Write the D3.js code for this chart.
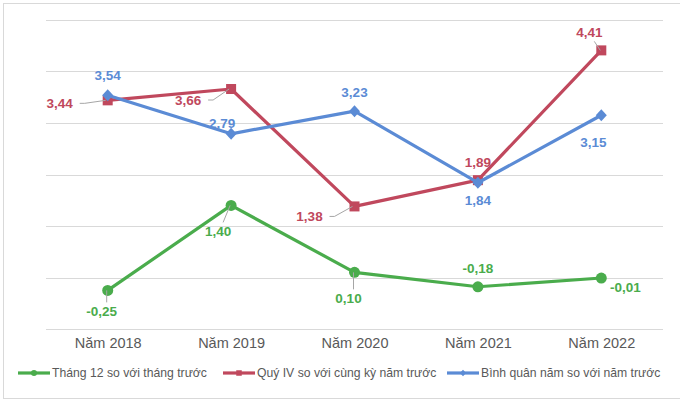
<!DOCTYPE html>
<html><head><meta charset="utf-8">
<script src="https://cdn.jsdelivr.net/npm/d3@7"></script>
<style>body{margin:0;background:#fff;} svg{display:block;font-family:Arial,"Liberation Sans",sans-serif;}</style>
</head><body><svg id="c" width="680" height="402"></svg>
<script>
const categories = ["Năm 2018","Năm 2019","Năm 2020","Năm 2021","Năm 2022"];
const seriesNames = ["Tháng 12 so với tháng trước","Quý IV so với cùng kỳ năm trước","Bình quân năm so với năm trước"];
const greenValues = [-0.25, 1.40, 0.10, -0.18, -0.01];
const redValues = [3.44, 3.66, 1.38, 1.89, 4.41];
const blueValues = [3.54, 2.79, 3.23, 1.84, 3.15];
const yTicks = [-1,0,1,2,3,4,5];

const svg = d3.select("#c");
svg.append("rect").attr("x",3.5).attr("y",3.5).attr("width",680).attr("height",395).attr("fill","none").attr("stroke","#d9d9d9");

const x = d3.scalePoint().domain(categories).range([46,663]).padding(0.5);
const y = d3.scaleLinear().domain([-1,5]).range([329,20]);

// gridlines
svg.append("g").selectAll("line").data(yTicks).join("line")
  .attr("x1",46).attr("x2",663).attr("y1",d=>Math.round(y(d))+0.5).attr("y2",d=>Math.round(y(d))+0.5)
  .attr("stroke","#d9d9d9").attr("stroke-width",1);

// x axis labels
const xAxis = d3.axisBottom(x).tickSize(0).tickPadding(0);
const gx = svg.append("g").attr("transform","translate(0,338)").call(xAxis);
gx.select(".domain").remove();
gx.selectAll("text").attr("font-size",14.5).attr("fill","#595959").attr("font-family","Arial,'Liberation Sans',sans-serif").attr("dy","0.71em");

const colors = {g:"#4aac4c", r:"#c0485d", b:"#5b8bd5"};
const series = [
  {key:"g", values:greenValues, marker:"circle"},
  {key:"r", values:redValues, marker:"square"},
  {key:"b", values:blueValues, marker:"diamond"}
];
const line = d3.line().x((d,i)=>x(categories[i])).y(d=>y(d));

function marker(g, type, cx, cy, color, scale){
  scale = scale||1;
  if(type==="circle") g.append("circle").attr("cx",cx).attr("cy",cy).attr("r",5.5*scale).attr("fill",color);
  else if(type==="square") g.append("rect").attr("x",cx-5*scale).attr("y",cy-5*scale).attr("width",10*scale).attr("height",10*scale).attr("fill",color);
  else g.append("path").attr("d",`M${cx},${cy-6*scale}L${cx+5.5*scale},${cy}L${cx},${cy+6*scale}L${cx-5.5*scale},${cy}Z`).attr("fill",color);
}

// draw order: green, red, blue
series.forEach(s=>{
  const g = svg.append("g");
  g.append("path").datum(s.values).attr("d",line).attr("fill","none").attr("stroke",colors[s.key]).attr("stroke-width",3.2).attr("stroke-linejoin","round");
  s.values.forEach((v,i)=>marker(g,s.marker,x(categories[i]),y(v),colors[s.key]));
});

// data labels: offsets relative to point [dx, dy] of label center, and leader flag
const labelOffsets = {
  g: [[-6,21,true],[-13,26,true],[-6,26,true],[0,-18,false],[24,9,false]],
  r: [[-48,3,true],[-43,11,true],[-45,10,true],[0,-18,false],[-12,-18,true]],
  b: [[0,-20,false],[-9,-11,false],[0,-19,false],[0,18,false],[-8,27,false]]
};
const fmt = v => d3.format(".2f")(v).replace(".",",").replace("−","-");
series.forEach(s=>{
  s.values.forEach((v,i)=>{
    const px = x(categories[i]), py = y(v);
    const [dx,dy,leader] = labelOffsets[s.key][i];
    const lx = px+dx, ly = py+dy;
    if(leader){
      let x1, y1;
      if(Math.abs(dx)>30){ x1 = lx + (dx<0?20:-20); y1 = ly; 
        svg.append("path").attr("d",`M${x1},${ly}L${x1+ (dx<0?5:-5)},${ly}L${px-2},${py}`).attr("fill","none").attr("stroke","#a6a6a6").attr("stroke-width",1);
      } else {
        x1 = lx + (dx<0?5:0); y1 = ly + (dy>0?-9:9);
        svg.append("line").attr("x1",x1).attr("y1",y1).attr("x2",px-(dx<0?1:0)).attr("y2",py).attr("stroke","#a6a6a6").attr("stroke-width",1);
      }
    }
    svg.append("text").attr("x",lx).attr("y",ly).attr("dy","0.35em").attr("text-anchor","middle")
      .attr("font-size",13.5).attr("font-weight","bold").attr("fill",colors[s.key]).text(fmt(v));
  });
});

// legend
const legendX = [18,223,447];
series.forEach((s,i)=>{
  const g = svg.append("g");
  const lx = legendX[i], ly = 373;
  g.append("line").attr("x1",lx).attr("x2",lx+32).attr("y1",ly).attr("y2",ly).attr("stroke",colors[s.key]).attr("stroke-width",3.2);
  marker(g,s.marker,lx+16,ly,colors[s.key],0.55);
  g.append("text").attr("x",lx+34).attr("y",ly).attr("dy","0.35em").attr("font-size",12.2).attr("fill","#595959").text(seriesNames[i]);
});
</script></body></html>
